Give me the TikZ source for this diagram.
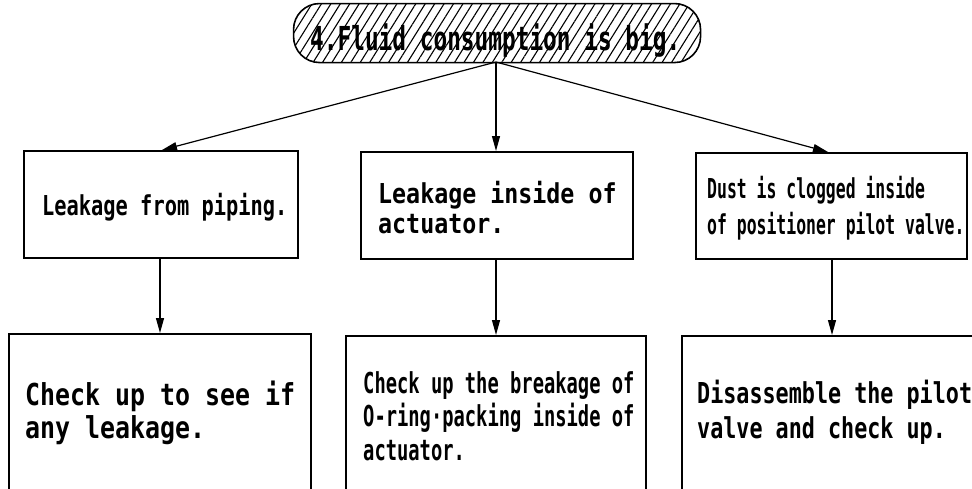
\documentclass[tikz,border=0pt]{standalone}
\usepackage{fontspec}
\usetikzlibrary{arrows.meta,patterns.meta}
\newfontfamily\fpill{DejaVu Sans Mono}[FakeStretch=0.69]
\newfontfamily\fbA{DejaVu Sans Mono}[FakeStretch=0.743]
\newfontfamily\fbB{DejaVu Sans Mono}[FakeStretch=0.85]
\newfontfamily\fbC{DejaVu Sans Mono}[FakeStretch=0.60]
\newfontfamily\fbD{DejaVu Sans Mono}[FakeStretch=0.825]
\newfontfamily\fbE{DejaVu Sans Mono}[FakeStretch=0.652]
\newfontfamily\fbF{DejaVu Sans Mono}[FakeStretch=0.755]
\tikzset{
  boxnode/.style={draw,line width=1.6pt,inner sep=0pt,anchor=north west},
  txt/.style={anchor=base west,inner sep=0pt,align=left},
  arr/.style={line width=1.2pt,-{Triangle[length=15pt,width=8pt]}},
}
\begin{document}
\begin{tikzpicture}[x=1pt,y=-1pt]
\useasboundingbox (0,0) rectangle (972,488);
% top pill
\node (pill) [draw,line width=1.6pt,rounded corners=26pt,inner sep=0pt,anchor=north west,
  minimum width=407pt,minimum height=59pt,
  pattern={Lines[angle=58,distance=8pt,line width=1.1pt]}] at (293,3) {};
\node (pilltxt) [txt,font=\fpill\bfseries\fontsize{33}{36}\selectfont] at (310,50) {4.Fluid consumption is big.};
% level 2 boxes
\node (b1) [boxnode,minimum width=274pt,minimum height=107pt] at (23,150) {};
\node (b2) [boxnode,minimum width=272pt,minimum height=107pt] at (360,151) {};
\node (b3) [boxnode,minimum width=271pt,minimum height=106pt] at (695,152) {};
% level 3 boxes
\node (b4) [boxnode,minimum width=302pt,minimum height=170pt] at (8,333) {};
\node (b5) [boxnode,minimum width=300pt,minimum height=170pt] at (345,335) {};
\node (b6) [boxnode,minimum width=304pt,minimum height=170pt] at (681,335) {};
% texts (anchor = baseline of last line)
\node (t1) [txt,font=\fbA\bfseries\fontsize{27.4}{30}\selectfont] at (42,215) {Leakage from piping.};
\node (t2) [txt,font=\fbB\bfseries\fontsize{27.4}{30}\selectfont] at (378,233) {Leakage inside of\\actuator.};
\node (t3) [txt,font=\fbC\bfseries\fontsize{27.4}{36}\selectfont] at (707,234) {Dust is clogged inside\\of positioner pilot valve.};
\node (t4) [txt,font=\fbD\bfseries\fontsize{30.2}{33}\selectfont] at (25,438) {Check up to see if\\any leakage.};
\node (t5) [txt,font=\fbE\bfseries\fontsize{28.8}{33.5}\selectfont] at (363,460) {Check up the breakage of\\O-ring·packing inside of\\actuator.};
\node (t6) [txt,font=\fbF\bfseries\fontsize{28.8}{35}\selectfont] at (697,438) {Disassemble the pilot\\valve and check up.};
% connectors
\coordinate (ps) at (496,62);
\draw[arr] (ps) -- (b1.north west -| 162,0);
\draw[arr] (ps) -- (b2.north west -| 496,0);
\draw[arr] (ps) -- (b3.north west -| 828,0);
\draw[arr] (b1.south west -| 160,0) -- (b4.north west -| 160,0);
\draw[arr] (b2.south west -| 496,0) -- (b5.north west -| 496,0);
\draw[arr] (b3.south west -| 832,0) -- (b6.north west -| 832,0);
\end{tikzpicture}
\end{document}
